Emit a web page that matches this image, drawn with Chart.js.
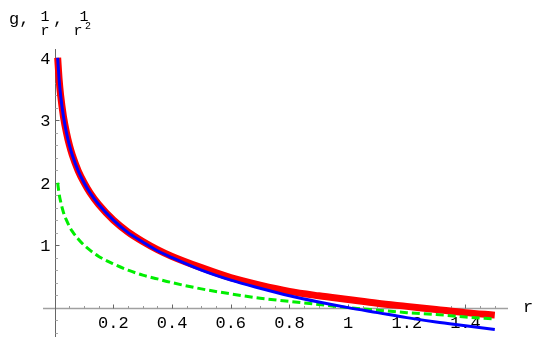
<!DOCTYPE html>
<html>
<head>
<meta charset="utf-8">
<script src="https://cdn.jsdelivr.net/npm/chart.js@4"></script>
<style>
html, body { margin: 0; padding: 0; background: #fff; }
</style>
</head>
<body>
<canvas id="grafico" width="545" height="337"></canvas>
<script>
// valores
const radios = [0.01, 0.015, 0.02, 0.03, 0.04, 0.05, 0.06, 0.08, 0.1, 0.12, 0.15, 0.2, 0.25, 0.3, 0.35, 0.4, 0.5, 0.6, 0.7, 0.8, 0.9, 1.0, 1.1, 1.2, 1.3, 1.4, 1.5];
// curva azul
const valoresR2 = [4.0, 3.65, 3.40, 3.05, 2.80, 2.60, 2.44, 2.19, 2.0, 1.84, 1.65, 1.40, 1.20, 1.05, 0.91, 0.80, 0.60, 0.44, 0.31, 0.19, 0.09, 0.0, -0.08, -0.16, -0.23, -0.29, -0.35];
// curva verde (punteada)
const valoresR = [2.0, 1.82, 1.70, 1.52, 1.40, 1.30, 1.22, 1.10, 1.0, 0.92, 0.82, 0.70, 0.60, 0.52, 0.46, 0.40, 0.30, 0.22, 0.15, 0.10, 0.05, 0.0, -0.04, -0.08, -0.11, -0.15, -0.18];
// curva roja (g)
const valoresG = [4.0, 3.65, 3.40, 3.05, 2.80, 2.60, 2.44, 2.19, 2.0, 1.84, 1.65, 1.40, 1.21, 1.06, 0.93, 0.82, 0.64, 0.48, 0.36, 0.26, 0.19, 0.13, 0.07, 0.02, -0.03, -0.08, -0.12];

const ticksX = [0.2, 0.4, 0.6, 0.8, 1, 1.2, 1.4];
const ticksY = [1, 2, 3, 4];
const menoresX = [0.05, 0.1, 0.15, 0.25, 0.3, 0.35, 0.45, 0.5, 0.55, 0.65, 0.7, 0.75, 0.85, 0.9, 0.95, 1.05, 1.1, 1.15, 1.25, 1.3, 1.35, 1.45, 1.5];
const menoresY = [-0.4, -0.2, 0.2, 0.4, 0.6, 0.8, 1.2, 1.4, 1.6, 1.8, 2.2, 2.4, 2.6, 2.8, 3.2, 3.4, 3.6, 3.8];

const puntos = arr => radios.map((r, i) => ({ x: r, y: arr[i] }));

const fuente = "'Liberation Mono', 'DejaVu Sans Mono', monospace";

// ejes, marcas y textos estilo Mathematica
const ejes = {
        id: 'ejes',
        beforeDatasetsDraw(chart) {
                const ctx = chart.ctx;
                const area = chart.chartArea;
                const sx = chart.scales.x;
                const sy = chart.scales.y;
                const x0 = Math.round(sx.getPixelForValue(0)) + 0.5;
                const y0 = Math.round(sy.getPixelForValue(0)) + 0.5;
                ctx.save();
                // eje x
                ctx.strokeStyle = '#a0a0a0';
                ctx.lineWidth = 1.5;
                ctx.beginPath(); ctx.moveTo(area.left, y0); ctx.lineTo(area.right, y0); ctx.stroke();
                // eje y
                ctx.strokeStyle = '#666';
                ctx.lineWidth = 1;
                ctx.beginPath(); ctx.moveTo(x0, area.top); ctx.lineTo(x0, area.bottom); ctx.stroke();
                // ticks x (hacia arriba)
                ctx.strokeStyle = '#666';
                ticksX.forEach(v => {
                        const px = Math.round(sx.getPixelForValue(v)) + 0.5;
                        ctx.beginPath(); ctx.moveTo(px, y0); ctx.lineTo(px, y0 - 4); ctx.stroke();
                });
                ctx.strokeStyle = '#999';
                menoresX.forEach(v => {
                        const px = Math.round(sx.getPixelForValue(v)) + 0.5;
                        ctx.beginPath(); ctx.moveTo(px, y0); ctx.lineTo(px, y0 - 2.5); ctx.stroke();
                });
                // ticks y (hacia la derecha)
                ctx.strokeStyle = '#666';
                ticksY.forEach(v => {
                        const py = Math.round(sy.getPixelForValue(v)) + 0.5;
                        ctx.beginPath(); ctx.moveTo(x0, py); ctx.lineTo(x0 + 4, py); ctx.stroke();
                });
                ctx.strokeStyle = '#aaa';
                menoresY.forEach(v => {
                        const py = Math.round(sy.getPixelForValue(v)) + 0.5;
                        ctx.beginPath(); ctx.moveTo(x0, py); ctx.lineTo(x0 + 2.5, py); ctx.stroke();
                });

                // etiquetas de los ticks
                ctx.fillStyle = '#000';
                ctx.font = '17px ' + fuente;
                ctx.textBaseline = 'alphabetic';
                ctx.textAlign = 'center';
                ticksX.forEach(v => {
                        ctx.fillText(String(v), sx.getPixelForValue(v), y0 + 19);
                });
                ctx.textAlign = 'right';
                ticksY.forEach(v => {
                        ctx.fillText(String(v), x0 - 5, sy.getPixelForValue(v) + 6);
                });

                // titulo del eje y: g, 1/r, 1/r^2
                ctx.textAlign = 'left';
                ctx.font = '17px ' + fuente;
                ctx.fillText('g,', 9, 24);
                ctx.fillText(',', 53, 24);
                ctx.font = '15px ' + fuente;
                ctx.textAlign = 'center';
                ctx.fillText('1', 45, 21);
                ctx.fillText('r', 45, 35);
                ctx.fillText('1', 84, 21);
                ctx.fillText('r', 78, 35);
                ctx.font = '10px ' + fuente;
                ctx.fillText('2', 88, 29);

                // etiqueta del eje x
                ctx.font = '17px ' + fuente;
                ctx.textAlign = 'left';
                ctx.fillText('r', 523, 312);
                ctx.restore();
        }
};

const ctx = document.querySelector('#grafico');

const myChart = new Chart(ctx, {
        type: 'line',
        data: {
                datasets: [
                        {
                                label: 'log 1/r^2',
                                data: puntos(valoresR2),
                                borderColor: '#0000ff',
                                borderWidth: 3,
                                pointRadius: 0,
                                cubicInterpolationMode: 'monotone'
                        },
                        {
                                label: 'log 1/r',
                                data: puntos(valoresR),
                                borderColor: '#00ee00',
                                borderWidth: 3,
                                borderDash: [8, 4],
                                pointRadius: 0,
                                cubicInterpolationMode: 'monotone'
                        },
                        {
                                label: 'g',
                                data: puntos(valoresG),
                                borderColor: '#ff0000',
                                borderWidth: 7,
                                borderJoinStyle: 'round',
                                pointRadius: 0,
                                cubicInterpolationMode: 'monotone'
                        }
                ]
        },
        options: {
                responsive: false,
                animation: false,
                layout: { padding: { left: 43, right: 37, top: 49, bottom: 0 } },
                plugins: {
                        legend: { display: false },
                        tooltip: { enabled: false }
                },
                scales: {
                        x: { type: 'linear', display: false, min: -0.04, max: 1.545 },
                        y: { type: 'linear', display: false, min: -0.47, max: 4.14 }
                }
        },
        plugins: [ejes]
});
</script>
</body>
</html>
